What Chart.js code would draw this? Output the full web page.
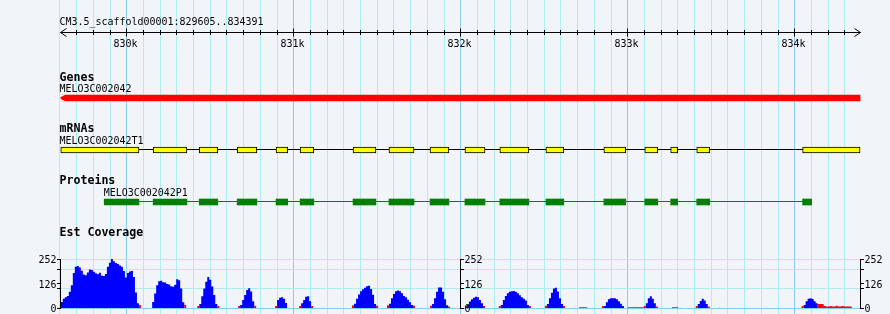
<!DOCTYPE html>
<html lang="en">
<head>
<meta charset="UTF-8">
<title>CM3.5_scaffold00001:829605..834391</title>
<script src="https://cdn.jsdelivr.net/npm/chart.js"></script>
<style>
  body { margin: 0; background: #f1f5fa; }
  .wrap { width: 890px; height: 314px; position: relative; }
</style>
</head>
<body>
<div class="wrap"><canvas id="browser"></canvas></div>
<script>
const refName = 'CM3.5_scaffold00001';
const viewStart = 829605;
const viewEnd = 834391;
const rulerLabels = ['830k', '831k', '832k', '833k', '834k'];
const rulerLabelPos = [830000, 831000, 832000, 833000, 834000];

const geneName = 'MELO3C002042';
const geneSpan = [829605, 834391];

const mrnaName = 'MELO3C002042T1';
const exonStarts = [829605, 830158, 830434, 830661, 830894, 831038, 831355, 831570, 831816,
                    832025, 832234, 832510, 832857, 833102, 833257, 833413, 834047];
const exonEnds   = [830073, 830360, 830545, 830779, 830964, 831120, 831492, 831720, 831929,
                    832145, 832408, 832617, 832988, 833180, 833299, 833491, 834391];

const proteinName = 'MELO3C002042P1';
const cdsSpan = [829865, 834101];

// Est coverage, 12 bp bins: [first bin start, values]
const binSize = 12;
const covMax = 252;
const covLabels = [0, 126, 252];
const covTicks = [0, 100, 126, 200, 252];
const covGrid = [0, 100, 200, 252];
const covBlue = [
  [829605, [31, 48, 55, 62, 83, 117, 180, 212, 216, 208, 191, 172, 169, 183, 198, 196, 186, 179, 174, 181,
            166, 164, 175, 212, 233, 252, 240, 231, 226, 218, 212, 190, 157, 180, 188, 190, 160, 80, 25]],
  [830152, [31, 74, 117, 138, 140, 133, 131, 124, 121, 112, 109, 120, 148, 143, 100, 30]],
  [830434, [20, 60, 100, 135, 159, 145, 110, 67, 20]],
  [830679, [16, 41, 67, 93, 102, 85, 35]],
  [830900, [41, 53, 55, 47, 26]],
  [831044, [24, 41, 58, 60, 35]],
  [831361, [22, 48, 70, 86, 97, 104, 112, 115, 98, 68, 20]],
  [831570, [22, 50, 72, 86, 90, 86, 76, 62, 55, 42, 29, 15]],
  [831828, [20, 50, 83, 105, 105, 83, 45, 14]],
  [832037, [16, 33, 45, 53, 58, 55, 41, 24]],
  [832240, [16, 41, 62, 76, 83, 86, 88, 83, 76, 65, 55, 48, 38, 16]],
  [832516, [21, 50, 79, 100, 104, 85, 50, 20]],
  [832857, [10, 30, 45, 50, 50, 50, 45, 35, 22, 10]],
  [833108, [24, 50, 60, 47, 24]],
  [833419, [21, 36, 47, 38, 21]],
  [834053, [16, 35, 48, 50, 46, 35, 25]]
];
const covRed = [
  [830073, [16]], [830344, [17]], [830422, [10]], [830542, [10]], [830667, [10]], [830763, [12]],
  [830888, [10]], [831032, [10]], [831104, [10]], [831349, [14]], [831493, [12]], [831558, [14]],
  [831714, [12]], [831816, [12]], [831924, [8]], [832025, [10]], [832133, [10]], [832228, [10]],
  [832408, [10]], [832504, [12]], [832612, [10]], [832708, [4, 4, 4, 4]], [832845, [10]],
  [833001, [4, 4, 4, 4, 4, 4, 4, 4]], [833096, [10]], [833168, [8]], [833265, [4, 4, 4]],
  [833407, [10]], [833479, [8]], [834041, [10]],
  [834137, [20, 20, 20, 10, 8, 8, 10, 8, 8, 12, 8, 8, 10, 8, 8, 8, 8]]
];

// ---- layout ----
const W = 890, H = 314;
const plotLeft = 60.8;          // pixel of viewStart
const pxPerBp = 0.167;
const xMin = viewStart - plotLeft / pxPerBp;
const xMax = xMin + W / pxPerBp;
const covZeroPx = 308, covTopPx = 259;
const covUnitPx = (covZeroPx - covTopPx) / covMax;
const covMin = (covZeroPx - H) / covUnitPx;
const covAxisMax = covMin + H / covUnitPx;

const rows = {
  scaleTitle: 25, ruler: 32.5, rulerLabel: 47,
  geneTitle: 81, geneName: 92, geneBar: 98,
  mrnaTitle: 132, mrnaName: 144, mrnaBar: 150, mrnaLine: 149.5,
  protTitle: 184, protName: 196, protBar: 202, protLine: 201.5,
  covTitle: 236
};

const bg = '#f1f5fa';
const gridMinor = '#aeeef2';
const gridMajor = '#88cdee';
const fontSmall = '11px "DejaVu Sans Mono", monospace';
const fontBold = 'bold 11.6px "DejaVu Sans Mono", monospace';

const gridTicks = [];
for (let v = Math.ceil(viewStart / 100) * 100 - 100; v < viewEnd; v += 100) gridTicks.push(v);

function stepPoints(runs) {
  const pts = [{x: viewStart, y: 0}];
  runs.forEach(([start, vals]) => {
    vals.forEach((v, i) => pts.push({x: start + i * binSize, y: v}));
    pts.push({x: start + vals.length * binSize, y: 0});
  });
  pts.push({x: viewEnd, y: 0});
  return pts;
}

const exons = exonStarts.map((s, i) => ({x: [s, exonEnds[i]], y: rows.mrnaBar}));
const cds = exonStarts.map((s, i) => [Math.max(s, cdsSpan[0]), Math.min(exonEnds[i], cdsSpan[1])])
  .filter(b => b[1] > b[0])
  .map(b => ({x: b, y: rows.protBar}));

function snap(p) { return Math.round(p - 0.5) + 0.5; }

function label(ctx, str, x, y, font, align, cw) {
  ctx.font = font;
  ctx.textAlign = align || 'left';
  ctx.textBaseline = 'alphabetic';
  ctx.fillText(str, x, y, str.length * cw);
}

const decor = {
  id: 'decor',
  beforeDraw(chart) {
    const c = chart.ctx;
    c.save();
    c.fillStyle = bg;
    c.fillRect(0, 0, chart.width, chart.height);
    c.restore();
  },
  beforeDatasetsDraw(chart) {
    const c = chart.ctx, xs = chart.scales.x, ys = chart.scales.yCov;
    const x0 = snap(xs.getPixelForValue(viewStart)), x1 = snap(xs.getPixelForValue(viewEnd));
    c.save();
    c.lineWidth = 1;
    covGrid.forEach(v => {
      const y = snap(ys.getPixelForValue(v));
      c.strokeStyle = v === 0 ? gridMajor : gridMinor;
      c.beginPath(); c.moveTo(x0 - 0.5, y); c.lineTo(x1 + 0.5, y); c.stroke();
    });
    c.restore();
  },
  afterDatasetsDraw(chart) {
    const c = chart.ctx, xs = chart.scales.x, ys = chart.scales.yCov, ly = chart.scales.yLay;
    const px = v => snap(xs.getPixelForValue(v));
    c.save();
    c.fillStyle = '#000';
    c.strokeStyle = '#000';
    c.lineWidth = 1;

    // ruler
    const rx0 = px(viewStart), rx1 = px(viewEnd), ry = rows.ruler;
    c.beginPath(); c.moveTo(rx0, ry); c.lineTo(rx1, ry); c.stroke();
    c.beginPath();
    c.moveTo(rx0 + 6, ry - 4); c.lineTo(rx0, ry); c.lineTo(rx0 + 6, ry + 4);
    c.moveTo(rx1 - 6, ry - 4); c.lineTo(rx1, ry); c.lineTo(rx1 - 6, ry + 4);
    c.stroke();
    gridTicks.forEach(v => {
      if (v <= viewStart) return;
      const x = px(v);
      const big = v % 1000 === 0;
      c.beginPath(); c.moveTo(x, ry - (big ? 4 : 2.5)); c.lineTo(x, ry + (big ? 4 : 2.5)); c.stroke();
    });
    label(c, refName + ':' + viewStart + '..' + viewEnd, 59.5, rows.scaleTitle, fontSmall, 'left', 6);
    rulerLabels.forEach((t, i) => label(c, t, px(rulerLabelPos[i]) - 1, rows.rulerLabel, fontSmall, 'center', 6));

    // strand arrow tips at the left (minus strand)
    const gx = xs.getPixelForValue(geneSpan[0]), gy = ly.getPixelForValue(rows.geneBar);
    c.fillStyle = bg;
    c.beginPath(); c.moveTo(gx - 1, gy - 3.5); c.lineTo(gx + 5, gy - 3.5); c.lineTo(gx - 1, gy - 0.5); c.fill();
    c.beginPath(); c.moveTo(gx - 1, gy + 3.5); c.lineTo(gx + 5, gy + 3.5); c.lineTo(gx - 1, gy + 0.5); c.fill();
    c.fillStyle = '#000';

    // track titles and names
    label(c, 'Genes', 59.5, rows.geneTitle, fontBold, 'left', 7);
    label(c, geneName, 59.5, rows.geneName, fontSmall, 'left', 6);
    label(c, 'mRNAs', 59.5, rows.mrnaTitle, fontBold, 'left', 7);
    label(c, mrnaName, 59.5, rows.mrnaName, fontSmall, 'left', 6);
    label(c, 'Proteins', 59.5, rows.protTitle, fontBold, 'left', 7);
    label(c, proteinName, xs.getPixelForValue(cdsSpan[0]) - 0.5, rows.protName, fontSmall, 'left', 6);
    label(c, 'Est Coverage', 59.5, rows.covTitle, fontBold, 'left', 7);

    // coverage scales: left, centre, right
    const axes = [[viewStart, -1], [(viewStart + viewEnd) / 2, 1], [viewEnd, 1]];
    const yTop = snap(ys.getPixelForValue(covMax)), yZero = snap(ys.getPixelForValue(0));
    axes.forEach(([v, side]) => {
      const x = px(v);
      c.beginPath(); c.moveTo(x, yTop - 0.5); c.lineTo(x, yZero + 0.5); c.stroke();
      covTicks.forEach(t => {
        const y = snap(ys.getPixelForValue(t));
        c.beginPath(); c.moveTo(x - 0.5, y); c.lineTo(x + side * 3.5, y); c.stroke();
      });
      covLabels.forEach(t => {
        const y = ys.getPixelForValue(t) + 4;
        if (side < 0) label(c, String(t), x - 4, y, fontSmall, 'right', 6);
        else label(c, String(t), x + 4, y, fontSmall, 'left', 6);
      });
    });
    c.restore();
  }
};

new Chart(document.getElementById('browser'), {
  type: 'line',
  data: {
    datasets: [
      {
        label: 'Genes', type: 'bar', indexAxis: 'y', xAxisID: 'x', yAxisID: 'yLay',
        data: [{x: geneSpan, y: rows.geneBar}],
        backgroundColor: '#ff0000', borderWidth: 0, barThickness: 6, grouped: false, order: 4
      },
      {
        label: 'mRNA introns', type: 'line', xAxisID: 'x', yAxisID: 'yLay',
        data: [{x: exonStarts[0], y: rows.mrnaLine}, {x: exonEnds[exonEnds.length - 1], y: rows.mrnaLine}],
        borderColor: '#000', borderWidth: 1, pointRadius: 0, order: 6
      },
      {
        label: 'mRNA exons', type: 'bar', indexAxis: 'y', xAxisID: 'x', yAxisID: 'yLay',
        data: exons,
        backgroundColor: '#ffff00', borderColor: '#000', borderWidth: 1, borderSkipped: false,
        barThickness: 6, grouped: false, order: 5
      },
      {
        label: 'Protein line', type: 'line', xAxisID: 'x', yAxisID: 'yLay',
        data: [{x: cdsSpan[0], y: rows.protLine}, {x: cdsSpan[1], y: rows.protLine}],
        borderColor: '#008000', borderWidth: 1, pointRadius: 0, order: 6
      },
      {
        label: 'Proteins', type: 'bar', indexAxis: 'y', xAxisID: 'x', yAxisID: 'yLay',
        data: cds,
        backgroundColor: '#008000', borderWidth: 0, barThickness: 6, grouped: false, order: 5
      },
      {
        label: 'Est coverage (red)', type: 'line', xAxisID: 'x', yAxisID: 'yCov',
        data: stepPoints(covRed), stepped: true, fill: 'origin',
        backgroundColor: '#ff0000', borderColor: 'rgba(0,0,0,0)', borderWidth: 0, pointRadius: 0, order: 3
      },
      {
        label: 'Est coverage', type: 'line', xAxisID: 'x', yAxisID: 'yCov',
        data: stepPoints(covBlue), stepped: true, fill: 'origin',
        backgroundColor: '#0000ff', borderColor: 'rgba(0,0,0,0)', borderWidth: 0, pointRadius: 0, order: 2
      }
    ]
  },
  options: {
    responsive: true,
    maintainAspectRatio: false,
    animation: false,
    events: [],
    layout: { padding: 0 },
    plugins: { legend: { display: false }, tooltip: { enabled: false } },
    scales: {
      x: {
        type: 'linear', min: xMin, max: xMax, offset: false,
        afterBuildTicks: s => { s.ticks = gridTicks.map(v => ({value: v})); },
        ticks: { display: false },
        grid: {
          color: c => (c.tick && c.tick.value % 1000 === 0) ? gridMajor : gridMinor,
          drawTicks: false, lineWidth: 1, offset: false
        },
        border: { display: false }
      },
      y: { display: false },
      yLay: { type: 'linear', display: false, min: 0, max: H, reverse: true, offset: false },
      yCov: { type: 'linear', display: false, min: covMin, max: covAxisMax, offset: false }
    }
  },
  plugins: [decor]
});
</script>
</body>
</html>
